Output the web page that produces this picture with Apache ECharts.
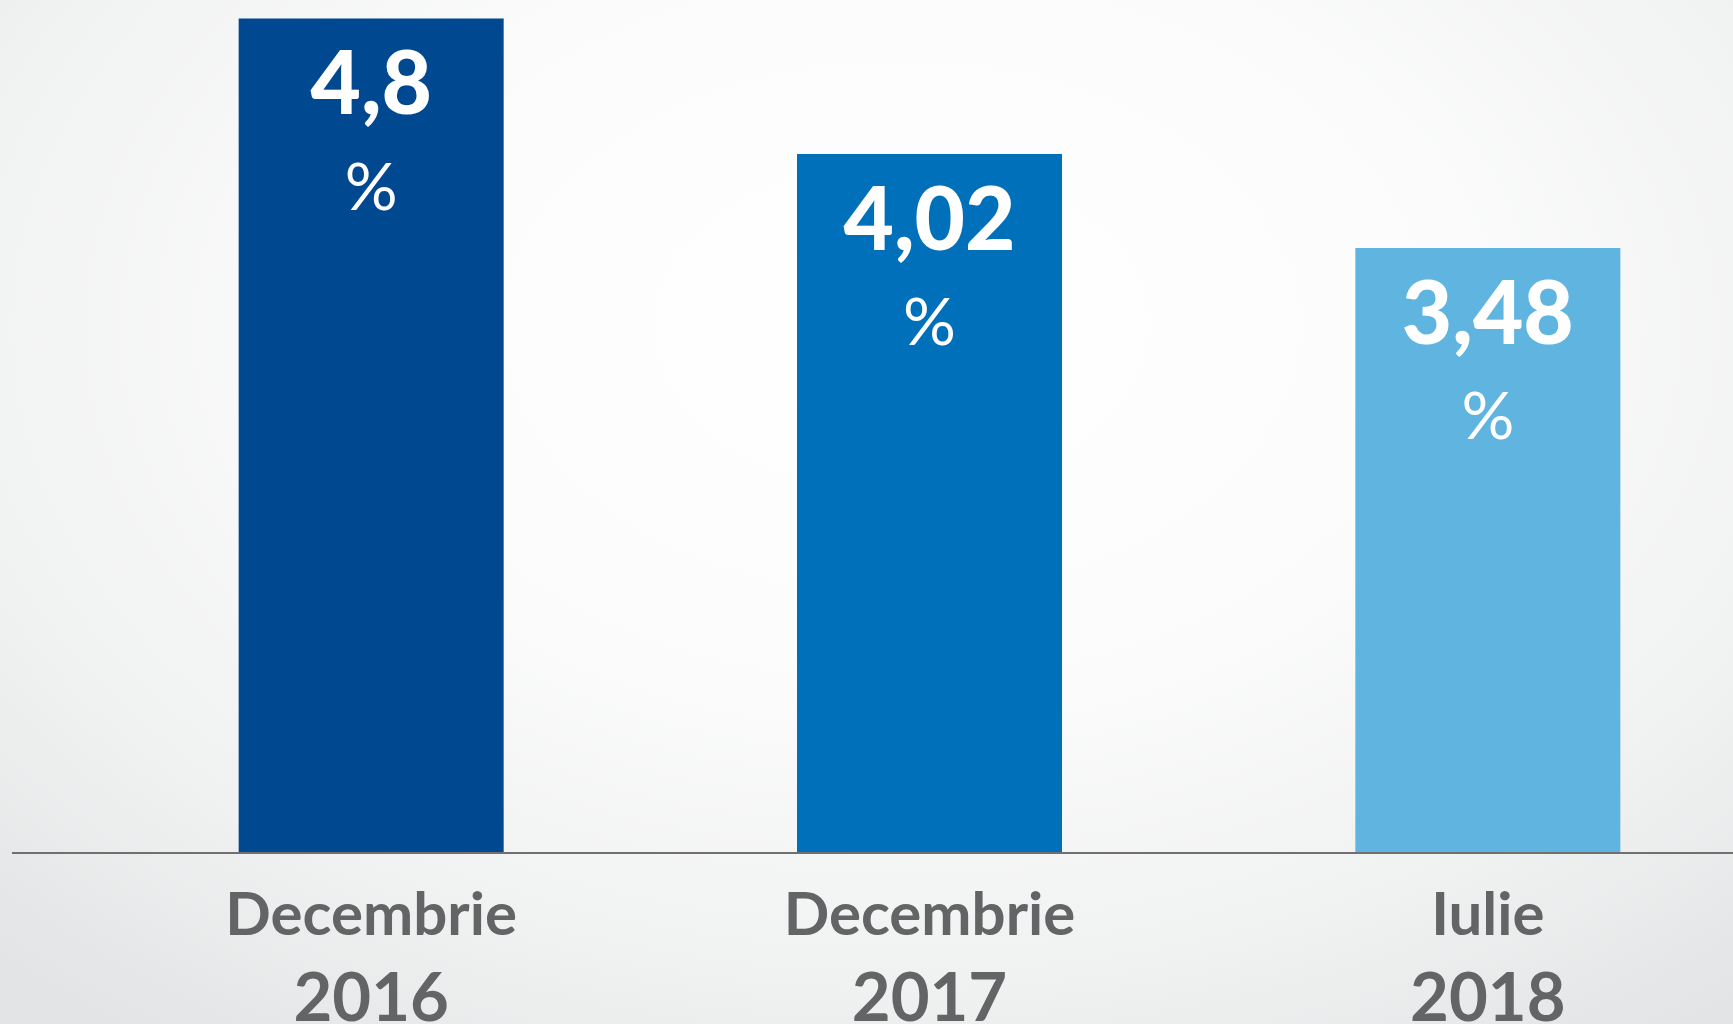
<!DOCTYPE html>
<html>
<head>
<meta charset="utf-8">
<script src="https://cdn.jsdelivr.net/npm/echarts@6/dist/echarts.min.js"></script>
<style>
html,body{margin:0;padding:0;width:1733px;height:1024px;overflow:hidden;
background: radial-gradient(ellipse 75% 85% at 52% 32%, #ffffff 0%, #fcfcfc 40%, #f0f1f1 75%, #e3e4e5 100%);}
#c{width:1733px;height:1024px;}
</style>
</head>
<body>
<div id="c"></div>
<script>
const months = ['Decembrie', 'Decembrie', 'Iulie'];
const years = ['2016', '2017', '2018'];
const values = [4.8, 4.02, 3.48];
const barColors = ['#004990', '#0070BA', '#60B5E0'];

const categories = months.map((m, i) => m + '\n' + years[i]);

const chart = echarts.init(document.getElementById('c'), null, {renderer: 'canvas'});
chart.setOption({
  backgroundColor: 'transparent',
  animation: false,
  grid: {left: 92, top: 1, width: 1675, height: 852, containLabel: false, outerBoundsMode: 'none'},
  xAxis: {
    type: 'category',
    data: categories,
    axisLine: {show: false},
    axisTick: {show: false},
    splitLine: {show: false},
    axisLabel: {
      margin: 22,
      interval: 0,
      formatter: function (v) {
        const p = v.split('\n');
        return '{m|' + p[0] + '}\n{y|' + p[1] + '}';
      },
      rich: {
        m: {fontFamily: 'Lato', fontWeight: 'bold', fontSize: 60, color: '#636466', lineHeight: 82},
        y: {fontFamily: 'Lato', fontWeight: 'bold', fontSize: 67, color: '#636466', lineHeight: 84}
      }
    }
  },
  yAxis: {type: 'value', min: 0, max: 4.9, show: false, splitLine: {show: false}},
  series: [{
    type: 'bar',
    data: values,
    barWidth: 265,
    itemStyle: {color: function (p) { return barColors[p.dataIndex]; }},
    label: {
      show: true,
      position: 'insideTop',
      distance: 0,
      formatter: function (p) {
        return '{v|' + String(p.value).replace('.', ',') + '}\n{p|%}';
      },
      rich: {
        v: {fontFamily: 'Lato', fontWeight: 900, fontSize: 87, color: '#ffffff', lineHeight: 136},
        p: {fontFamily: 'Lato', fontWeight: 'normal', fontSize: 66, color: '#ffffff', lineHeight: 68}
      }
    }
  }],
  graphic: [{
    type: 'line',
    shape: {x1: 12, y1: 853, x2: 1733, y2: 853},
    style: {stroke: '#707070', lineWidth: 2},
    z: 10
  }]
});
</script>
</body>
</html>
